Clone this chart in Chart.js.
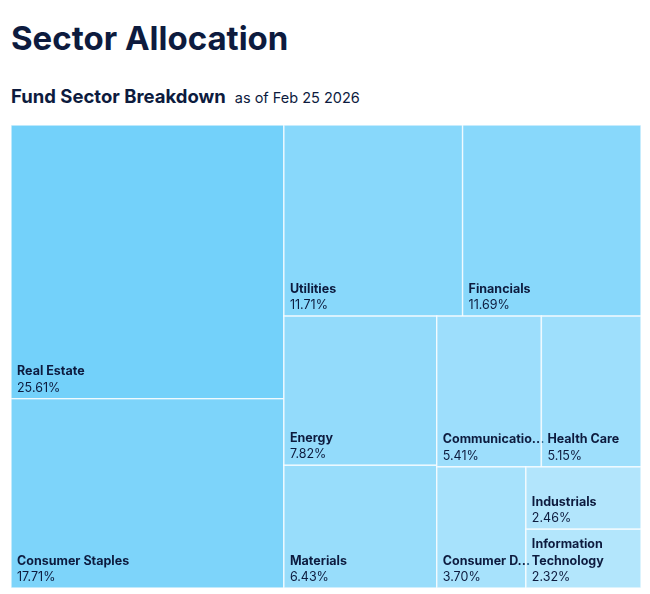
<!DOCTYPE html>
<html>
<head>
<meta charset="utf-8">
<script src="https://cdn.jsdelivr.net/npm/chart.js@4.4.1/dist/chart.umd.min.js"></script>
<style>
    body { margin: 0; background: #fff; font-family: Inter, "Noto Sans", sans-serif; color: #0d1b3e; }
    #title { position: absolute; left: 11px; top: 16px; font-size: 33px; font-weight: 700; line-height: 44px; }
    #sub { position: absolute; left: 11px; top: 84px; font-size: 18.5px; font-weight: 700; line-height: 24px; }
    #sub span { font-size: 14.5px; font-weight: 400; margin-left: 9px; }
    #wrap { position: absolute; left: 11px; top: 125px; width: 630px; height: 463px; }
</style>
</head>
<body>
<div id="title">Sector Allocation</div>
<div id="sub">Fund Sector Breakdown<span>as of Feb 25 2026</span></div>
<div id="wrap"><canvas id="treemap"></canvas></div>
<script>
// Sector weights (%)
const sectors = ['Real Estate', 'Consumer Staples', 'Utilities', 'Financials', 'Energy', 'Materials',
    'Communication Services', 'Health Care', 'Consumer Discretionary', 'Industrials', 'Information Technology'];
const weights = [25.61, 17.71, 11.71, 11.69, 7.82, 6.43, 5.41, 5.15, 3.70, 2.46, 2.32];

const textColor = '#0d1b3e';

// worst aspect ratio of a row laid along a side
function worst(row, side) {
    const s = row.reduce((a, b) => a + b, 0);
    const mx = Math.max(...row), mn = Math.min(...row);
    return Math.max(side * side * mx / (s * s), (s * s) / (side * side * mn));
}

// Squarified layout, returns rects as fractions of the area
function squarify(values, W, H) {
    const total = values.reduce((a, b) => a + b, 0);
    const areas = values.map(v => v * W * H / total);
    const out = [];
    let x = 0, y = 0, w = W, h = H, i = 0;
    while (i < areas.length) {
        const side = Math.min(w, h);
        let row = [areas[i]];
        let j = i + 1;
        while (j < areas.length) {
            const next = row.concat(areas[j]);
            if (worst(next, side) <= worst(row, side)) { row = next; j++; } else break;
        }
        const sum = row.reduce((a, b) => a + b, 0);
        if (w >= h) {
            const cw = sum / h;
            let cy = y;
            row.forEach(a => { const ch = a / cw; out.push({ x: x / W, y: cy / H, w: cw / W, h: ch / H }); cy += ch; });
            x += cw; w -= cw;
        } else {
            const rh = sum / w;
            let cx = x;
            row.forEach(a => { const rw = a / rh; out.push({ x: cx / W, y: y / H, w: rw / W, h: rh / H }); cx += rw; });
            y += rh; h -= rh;
        }
        i = j;
    }
    return out;
}

function cellColor(v) {
    const lo = Math.log(Math.min(...weights)), hi = Math.log(Math.max(...weights));
    const a = 0.38 + 0.32 * (Math.log(v) - lo) / (hi - lo);
    return `rgba(56, 189, 248, ${a.toFixed(3)})`;
}

// Fit name into the cell: one line, wrapped words, or truncated
function labelLines(ctx, name, maxW) {
    if (ctx.measureText(name).width <= maxW) return [name];
    const words = name.split(' ');
    if (words.every(wd => ctx.measureText(wd).width <= maxW)) {
        const lines = [];
        let cur = '';
        words.forEach(wd => {
            const test = cur ? cur + ' ' + wd : wd;
            if (ctx.measureText(test).width <= maxW) cur = test;
            else { lines.push(cur); cur = wd; }
        });
        lines.push(cur);
        return lines;
    }
    let n = name.length;
    while (n > 1 && ctx.measureText(name.slice(0, n)).width > maxW) n--;
    return [name.slice(0, n).trimEnd() + '...'];
}

const treemapPlugin = {
    id: 'treemapCells',
    afterDatasetsDraw(chart) {
        const { ctx, chartArea } = chart;
        const xs = chart.scales.x, ys = chart.scales.y;
        const rects = squarify(weights, chartArea.width, chartArea.height);
        const px = f => xs.getPixelForValue(xs.min + f * (xs.max - xs.min));
        const py = f => ys.getPixelForValue(ys.min + f * (ys.max - ys.min));
        ctx.save();
        rects.forEach((r, k) => {
            const x0 = px(r.x), x1 = px(r.x + r.w);
            const y0 = py(r.y), y1 = py(r.y + r.h);
            ctx.fillStyle = cellColor(weights[k]);
            ctx.fillRect(x0, y0, x1 - x0, y1 - y0);
            ctx.strokeStyle = 'rgba(255, 255, 255, 0.75)';
            ctx.lineWidth = 1.4;
            ctx.strokeRect(x0, y0, x1 - x0, y1 - y0);

            const pad = 6;
            ctx.fillStyle = textColor;
            ctx.textAlign = 'left';
            ctx.textBaseline = 'alphabetic';
            ctx.font = '700 12.5px Inter';
            const lines = labelLines(ctx, sectors[k], (x1 - x0) - 2 * pad);
            let base = y1 - 7;
            ctx.font = '400 12.5px Inter';
            ctx.fillText(weights[k].toFixed(2) + '%', x0 + pad, base);
            ctx.font = '700 12.5px Inter';
            for (let l = lines.length - 1; l >= 0; l--) {
                base -= 16.5;
                ctx.fillText(lines[l], x0 + pad, base);
            }
        });
        ctx.restore();
    }
};

new Chart(document.getElementById('treemap').getContext('2d'), {
    type: 'scatter',
    data: { datasets: [{ label: 'Sector weight', data: [] }] },
    options: {
        responsive: true,
        maintainAspectRatio: false,
        animation: false,
        layout: { padding: 0 },
        plugins: { legend: { display: false }, tooltip: { enabled: false } },
        scales: {
            x: { type: 'linear', min: 0, max: 100, display: false },
            y: { type: 'linear', min: 0, max: 100, reverse: true, display: false }
        }
    },
    plugins: [treemapPlugin]
});
</script>
</body>
</html>
